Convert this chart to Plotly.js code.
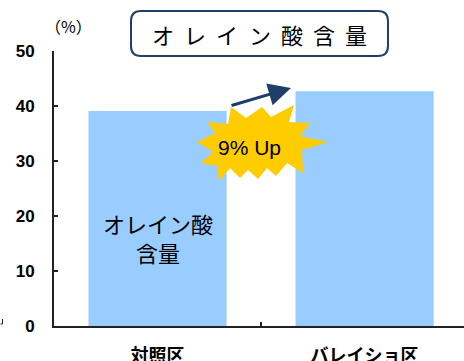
<!DOCTYPE html>
<html>
<head>
<meta charset="utf-8">
<script src="https://cdn.plot.ly/plotly-3.0.1.min.js"></script>
<style>html,body{margin:0;padding:0;background:#fff;}#chart{width:464px;height:361px;}</style>
</head>
<body>
<div id="chart"></div>
<script>
const categories = ["対照区", "バレイショ区"];
const oleicValues = [39.1, 42.7];
const yTickValues = [0, 10, 20, 30, 40, 50];
const titleChars = ["オ", "レ", "イ", "ン", "酸", "含", "量"];
const unitLabel = "（%）";
const barLabel = "オレイン酸<br>含量";
const increaseLabel = "9% Up";

const W = 464, H = 361, ML = 54, MR = 0, MT = 51, MB = 35;
const PW = W - ML - MR, PH = H - MT - MB;
const px = X => (X - ML) / PW;
const py = Y => (H - MB - Y) / PH;

// star burst outline (pixel positions of the decoration)
const starPts = [[231,107],[246,118],[262,107],[271,117],[294,105],[289,122],[310,123],[300,136],[328,142],[302,150],[303,173],[287,163],[276,176],[267,168],[258,179],[248,170],[240,178],[230,168],[219,181],[217,166],[201,163],[213,152],[197,142],[215,133],[207,122],[228,124]];
const starPath = starPts.map((p, i) => (i ? 'L' : 'M') + px(p[0]).toFixed(4) + ',' + py(p[1]).toFixed(4)).join(' ') + ' Z';

function roundRect(x0, y0, x1, y1, r) {
  const P = (X, Y) => px(X).toFixed(4) + ',' + py(Y).toFixed(4);
  return 'M' + P(x0 + r, y0) + ' L' + P(x1 - r, y0) + ' Q' + P(x1, y0) + ' ' + P(x1, y0 + r) +
    ' L' + P(x1, y1 - r) + ' Q' + P(x1, y1) + ' ' + P(x1 - r, y1) +
    ' L' + P(x0 + r, y1) + ' Q' + P(x0, y1) + ' ' + P(x0, y1 - r) +
    ' L' + P(x0, y0 + r) + ' Q' + P(x0, y0) + ' ' + P(x0 + r, y0) + ' Z';
}

const trace = {
  type: 'bar',
  x: categories,
  y: oleicValues,
  width: 0.667,
  marker: {color: '#99CCFF', line: {width: 0}},
  hoverinfo: 'none'
};

const titleAnnotations = titleChars.map((c, i) => ({
  xref: 'paper', yref: 'paper', x: px(163 + i * 32.2), y: py(34), text: c, showarrow: false,
  font: {family: 'Noto Sans CJK JP', size: 22, color: '#000000'}, xanchor: 'center', yanchor: 'middle'
}));

const layout = {
  width: W, height: H,
  margin: {l: ML, r: MR, t: MT, b: MB, pad: 0},
  paper_bgcolor: '#ffffff', plot_bgcolor: '#ffffff',
  showlegend: false,
  xaxis: {
    type: 'category', range: [-0.5, 1.48],
    showline: true, linecolor: '#222222', linewidth: 2,
    ticks: 'inside', tickson: 'boundaries', ticklen: 4, tickwidth: 1.5, tickcolor: '#222222',
    showgrid: false, zeroline: false,
    tickfont: {family: 'Noto Sans CJK JP', size: 18, color: '#000000', weight: 'bold'},
    ticklabelstandoff: 12
  },
  yaxis: {
    range: [0, 50], tickvals: yTickValues,
    showline: true, linecolor: '#222222', linewidth: 2,
    ticks: 'inside', ticklen: 4, tickwidth: 1.5, tickcolor: '#222222',
    showgrid: false, zeroline: false,
    tickfont: {family: 'Liberation Sans Narrow, Liberation Sans, Arial', size: 17, color: '#000000', weight: 'bold'},
    ticklabelstandoff: 14
  },
  shapes: [
    {type: 'path', xref: 'paper', yref: 'paper', path: roundRect(131, 11, 388, 56, 10),
     line: {color: '#1F3F6A', width: 2}, fillcolor: '#ffffff', layer: 'above'},
    {type: 'path', xref: 'paper', yref: 'paper', path: starPath,
     line: {width: 0}, fillcolor: '#FFCC00', layer: 'above'},
    {type: 'path', xref: 'paper', yref: 'paper',
     path: 'M' + px(0.5) + ',' + py(324) + ' L' + px(2.5) + ',' + py(324) + ' L' + px(2.5) + ',' + py(319),
     line: {color: '#222222', width: 1}, layer: 'above'}
  ],
  annotations: titleAnnotations.concat([
    {xref: 'paper', yref: 'paper', x: px(68), y: py(26), text: unitLabel, showarrow: false,
     font: {family: 'Noto Sans CJK JP', size: 16, color: '#000000'}, xanchor: 'center', yanchor: 'middle'},
    {xref: 'x', yref: 'paper', x: categories[0], y: py(238), text: barLabel, showarrow: false,
     font: {family: 'Noto Sans CJK JP', size: 22, color: '#000000'}, xanchor: 'center', yanchor: 'middle'},
    {xref: 'paper', yref: 'paper', x: px(249), y: py(147), text: increaseLabel, showarrow: false,
     font: {family: 'Liberation Sans, Arial', size: 21, color: '#000000'}, xanchor: 'center', yanchor: 'middle'},
    {xref: 'paper', yref: 'paper', x: px(291), y: py(88), ax: px(230), ay: py(106), axref: 'paper', ayref: 'paper',
     text: '', showarrow: true, arrowhead: 2, arrowsize: 1.5, arrowwidth: 3, arrowcolor: '#1F3F6A', standoff: 0}
  ])
};

Plotly.newPlot('chart', [trace], layout, {displayModeBar: false, staticPlot: true});
</script>
</body>
</html>
